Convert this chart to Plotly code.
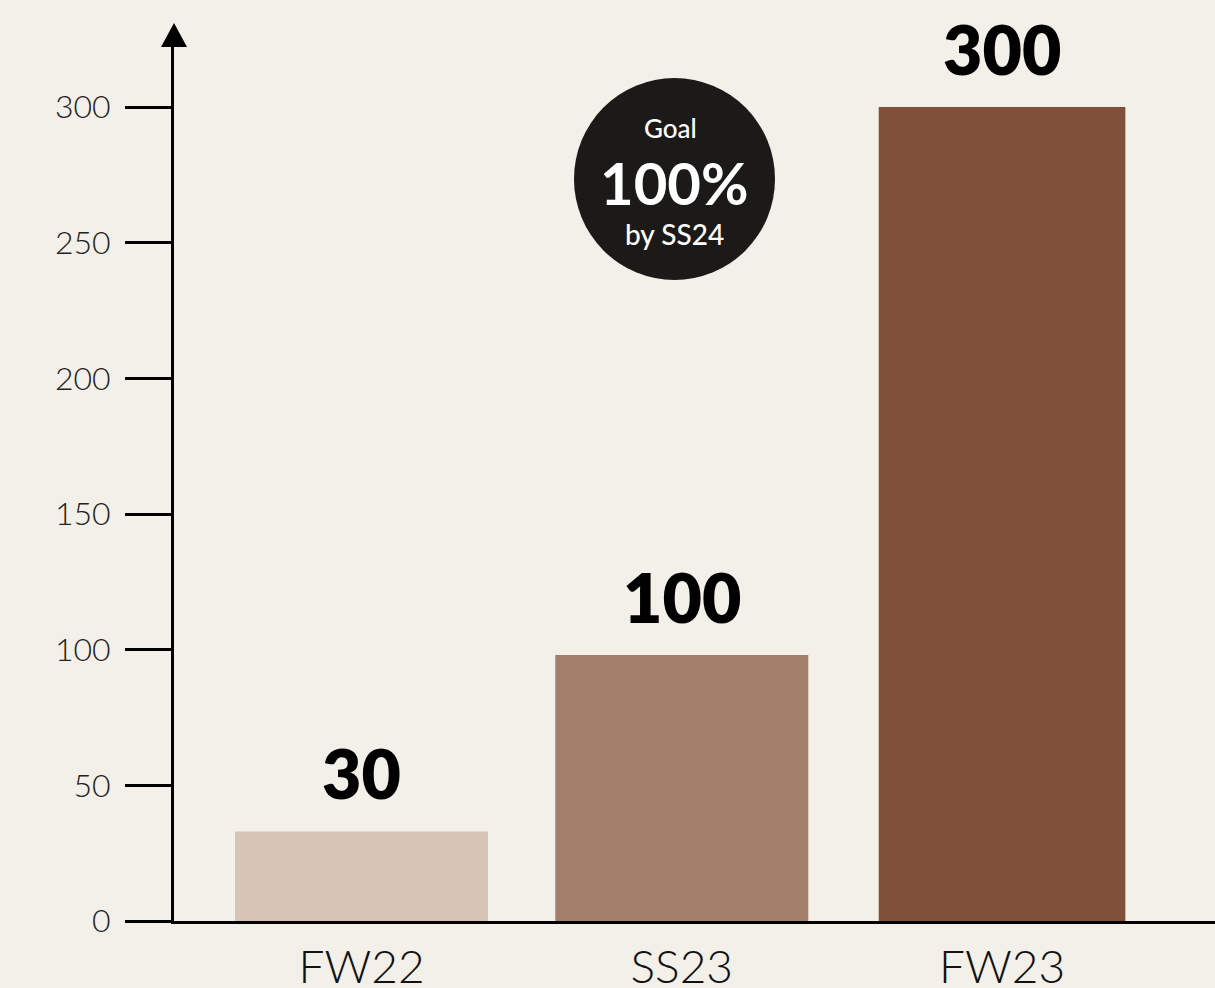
import plotly.graph_objects as go

categories = ["FW22", "SS23", "FW23"]
values = [33, 98, 300]
value_labels = ["30", "100", "300"]
bar_colors = ["#D6C4B4", "#A37E6B", "#7F5139"]
y_ticks = [0, 50, 100, 150, 200, 250, 300]

BG = "#F3EFE9"
W, H = 1215, 988
L, R, T, B = 174, 0, 47, 67
pw, ph = W - L - R, H - T - B

fig = go.Figure()
fig.add_trace(go.Bar(
    x=categories, y=values, marker_color=bar_colors, marker_line_width=0,
    width=[0.79, 0.79, 0.77], hoverinfo="skip"))

for c, v, t in zip(categories, values, value_labels):
    fig.add_annotation(x=c, y=v, text=t, showarrow=False, yanchor="bottom",
                       yshift=16, font=dict(family="Lato", size=68, color="#000", weight=800))

def px_x(p):
    return (p - L) / pw

def px_y(p):
    return (H - B - p) / ph

# goal circle
fig.add_shape(type="circle", xref="paper", yref="paper",
              x0=px_x(574), x1=px_x(775), y0=px_y(280), y1=px_y(78),
              fillcolor="#1B1A18", line_width=0, layer="above")
for txt, cx, cy, size, wt in [("Goal", 670, 128, 26, 500),
                              ("100%", 674, 182, 58, 700),
                              ("by SS24", 674, 234, 28, 500)]:
    fig.add_annotation(xref="paper", yref="paper", x=px_x(cx), y=px_y(cy), text=txt,
                       xanchor="center", yanchor="middle", showarrow=False,
                       font=dict(family="Lato", size=size, color="white", weight=wt))

# arrow head on y axis
fig.add_shape(type="path", xref="paper", yref="paper",
              path=f"M {px_x(161)} {px_y(47)} L {px_x(174)} {px_y(23)} L {px_x(187)} {px_y(47)} Z",
              fillcolor="#000", line_width=0, layer="above")

fig.update_layout(
    width=W, height=H, margin=dict(l=L, r=R, t=T, b=B, pad=0, autoexpand=False),
    paper_bgcolor=BG, plot_bgcolor=BG, showlegend=False, bargap=0.2,
    xaxis=dict(range=[-0.5855, 2.665], showgrid=False, zeroline=False, automargin=False,
               showline=True, linecolor="#000", linewidth=3, ticks="",
               tickfont=dict(family="Lato", size=46, color="#111", weight=300),
               ticklabelstandoff=4),
    yaxis=dict(range=[0, (H - B - T) / ((921 - 107) / 300)], showgrid=False, zeroline=False,
               automargin=False,
               showline=True, linecolor="#000", linewidth=3,
               tickvals=y_ticks, ticks="outside", ticklen=46, tickwidth=3, tickcolor="#000",
               tickfont=dict(family="Lato", size=32, color="#222", weight=300),
               ticklabelstandoff=8),
)

fig.write_html("out.html", config={"displayModeBar": False},
               post_script="document.body.style.margin='0';document.body.style.background='" + BG + "';")
